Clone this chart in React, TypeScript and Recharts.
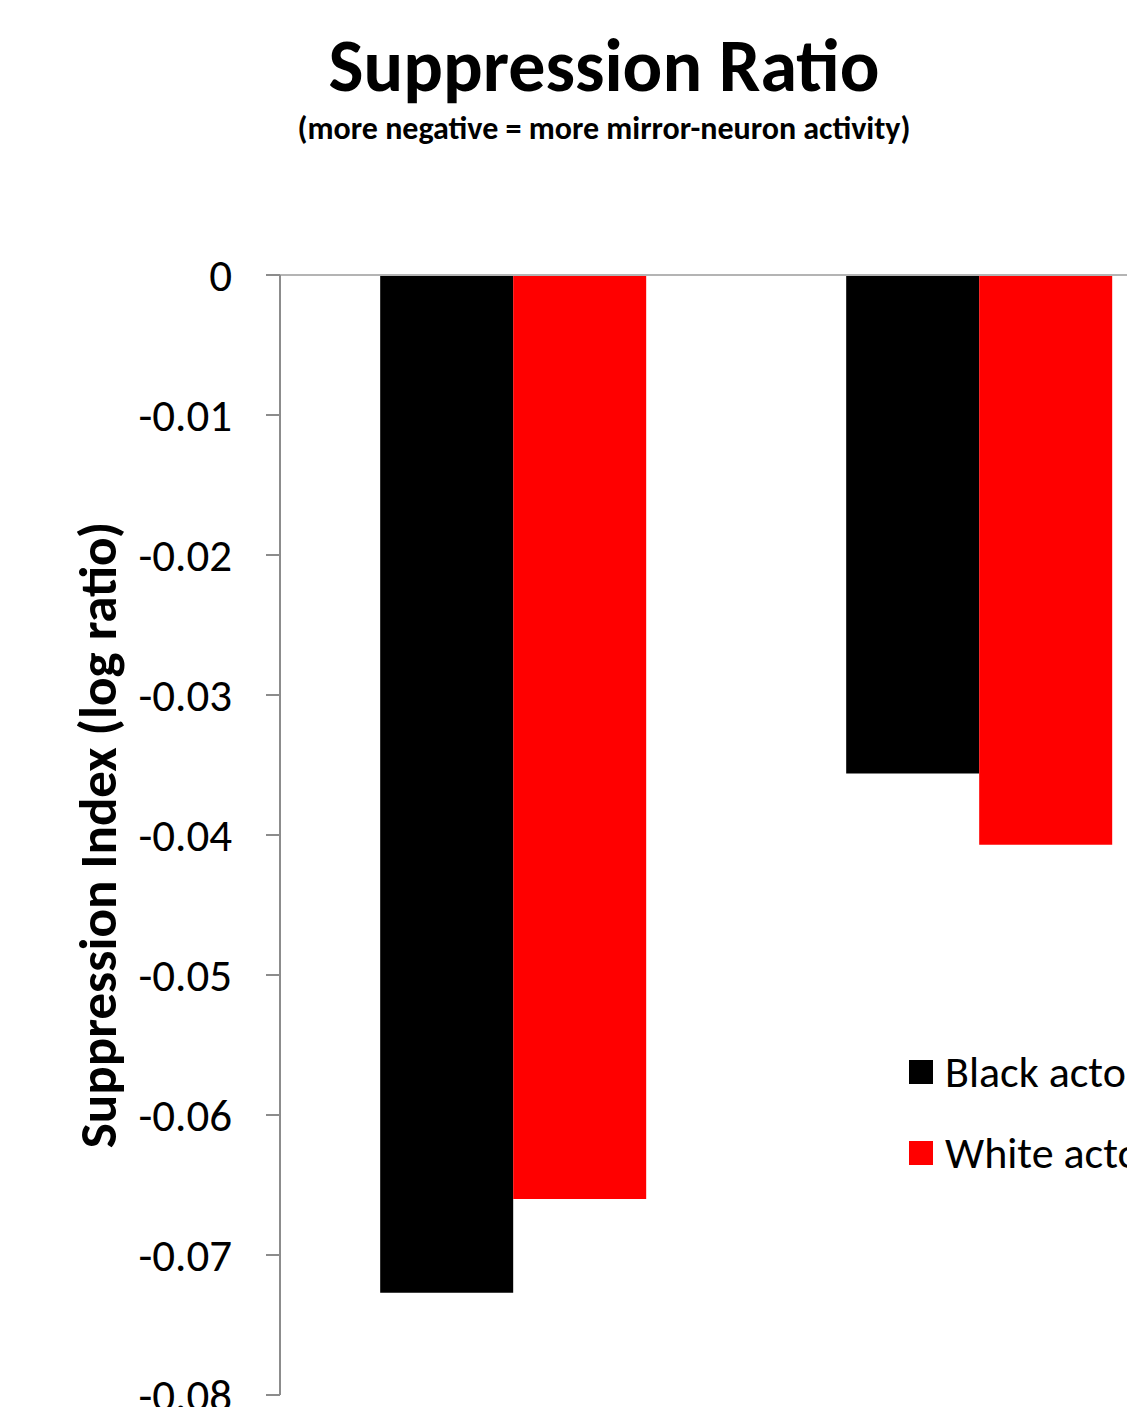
import React from 'react';
import { BarChart, Bar, XAxis, YAxis, ReferenceLine, Legend } from 'recharts';

// Suppression index per group, split by actor race
const groups = ['Group 1', 'Group 2'];
const blackActor = [-0.0727, -0.0356];
const whiteActor = [-0.066, -0.0407];
const yTicks = [0, -0.01, -0.02, -0.03, -0.04, -0.05, -0.06, -0.07, -0.08];

const seriesNames = { black: 'Black actor', white: 'White actor' };
const seriesColors = { black: '#000000', white: '#ff0000' };

const data = groups.map((g, i) => ({ group: g, black: blackActor[i], white: whiteActor[i] }));

const FONT = 'Carlito, Calibri, Lato, "Open Sans", sans-serif';

const CHART_W = 1240;
const CHART_H = 1440;

const renderLegend = (props: any) => {
  const { payload } = props;
  return (
    <div style={{ fontFamily: FONT }}>
      {(payload || []).map((entry: any) => (
        <div
          key={entry.value}
          style={{ display: 'flex', alignItems: 'center', height: 81 }}
        >
          <div style={{ width: 24, height: 24, background: entry.color, marginRight: 12 }} />
          <span style={{ fontSize: 44, lineHeight: 1, color: '#000', whiteSpace: 'nowrap' }}>
            {entry.value}
          </span>
        </div>
      ))}
    </div>
  );
};

const YLabel = (props: any) => {
  const vb = props.viewBox || {};
  const cy = (vb.y || 0) + (vb.height || 0) / 2;
  const x = 116;
  return (
    <text
      x={x}
      y={cy}
      transform={`rotate(-90, ${x}, ${cy})`}
      textAnchor="middle"
      fontFamily={FONT}
      fontWeight="bold"
      fontSize={53}
      fill="#000"
    >
      Suppression Index (log ratio)
    </text>
  );
};

export default function App() {
  return (
    <div
      style={{
        position: 'fixed',
        left: 0,
        top: 0,
        width: 1127,
        height: 1407,
        overflow: 'hidden',
        background: '#fff',
      }}
    >
      <svg
        width={1127}
        height={170}
        style={{ position: 'absolute', left: 0, top: 0 }}
      >
        <text
          x={604}
          y={91}
          textAnchor="middle"
          fontFamily={FONT}
          fontWeight="bold"
          fontSize={74}
          fill="#000"
        >
          Suppression Ratio
        </text>
        <text
          x={604}
          y={139}
          textAnchor="middle"
          fontFamily={FONT}
          fontWeight="bold"
          fontSize={32}
          fill="#000"
        >
          (more negative = more mirror-neuron activity)
        </text>
      </svg>
      <div style={{ position: 'absolute', left: 0, top: 0 }}>
        <BarChart
          width={CHART_W}
          height={CHART_H}
          data={data}
          margin={{ top: 275, right: CHART_W - 1212, left: 0, bottom: CHART_H - 1395 }}
          barCategoryGap="21.5%"
          barGap={0}
        >
          <XAxis dataKey="group" hide />
          <YAxis
            width={280}
            domain={[-0.08, 0]}
            ticks={yTicks}
            interval={0}
            allowDataOverflow
            tickFormatter={(v: number) => (v === 0 ? '0' : v.toFixed(2))}
            tick={{ fill: '#000', fontSize: 45, fontFamily: FONT }}
            tickSize={14}
            tickMargin={34}
            tickLine={{ stroke: '#8c8c8c', strokeWidth: 2 }}
            axisLine={{ stroke: '#8c8c8c', strokeWidth: 2 }}
            label={<YLabel />}
          />
          <Bar
            dataKey="black"
            name={seriesNames.black}
            fill={seriesColors.black}
            isAnimationActive={false}
          />
          <Bar
            dataKey="white"
            name={seriesNames.white}
            fill={seriesColors.white}
            isAnimationActive={false}
          />
          <ReferenceLine y={0} stroke="#b4b4b4" strokeWidth={2} />
          <Legend
            layout="vertical"
            align="center"
            verticalAlign="middle"
            content={renderLegend}
            wrapperStyle={{ left: 909, top: 1031, width: 320, height: 162 }}
          />
        </BarChart>
      </div>
    </div>
  );
}
